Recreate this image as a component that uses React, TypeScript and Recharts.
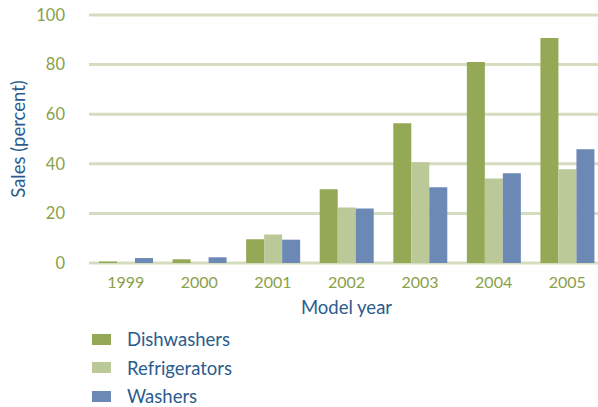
import { BarChart, Bar, XAxis, YAxis, CartesianGrid, Label } from "recharts";

const years = ["1999", "2000", "2001", "2002", "2003", "2004", "2005"];
const dishwashers = [0.6, 1.5, 9.6, 29.7, 56.4, 81.0, 90.7];
const refrigerators = [0, 0, 11.5, 22.4, 40.6, 34.1, 37.8];
const washers = [2.0, 2.3, 9.4, 22.0, 30.5, 36.2, 45.9];
const yTicks = [0, 20, 40, 60, 80, 100];

const series = [
  { key: "dishwashers", name: "Dishwashers", color: "#94a855" },
  { key: "refrigerators", name: "Refrigerators", color: "#bbc998" },
  { key: "washers", name: "Washers", color: "#6b89b4" },
];

const data = years.map((year, i) => ({
  year,
  dishwashers: dishwashers[i],
  refrigerators: refrigerators[i],
  washers: washers[i],
}));

const FONT = "Lato, 'Open Sans', sans-serif";
const TICK_GREEN = "#8aa04a";
const LABEL_BLUE = "#2b5c8e";

export default function App() {
  return (
    <div style={{ position: "absolute", left: 0, top: 0, width: 598, height: 407, overflow: "hidden", background: "#fff" }}>
      <BarChart
        width={604}
        height={330}
        data={data}
        margin={{ top: 15, right: 0, left: 0, bottom: 7 }}
        barGap={0}
      >
        <CartesianGrid vertical={false} stroke="#d5ddc0" strokeWidth={3} />
        <XAxis
          dataKey="year"
          axisLine={false}
          tickLine={false}
          tickSize={0}
          tickMargin={14}
          height={60}
          tick={{ fill: TICK_GREEN, fontSize: 16, fontFamily: FONT }}
        >
          <Label value="Model year" position="insideBottom" offset={9} fill={LABEL_BLUE} fontSize={18.5} fontFamily={FONT} />
        </XAxis>
        <YAxis
          domain={[0, 100]}
          ticks={yTicks}
          width={89}
          axisLine={false}
          tickLine={false}
          tickSize={0}
          tickMargin={24}
          tick={{ fill: TICK_GREEN, fontSize: 16.5, fontFamily: FONT }}
        >
          <Label value="Sales (percent)" angle={-90} position="insideLeft" offset={18} fill={LABEL_BLUE} fontSize={18.5} fontFamily={FONT} style={{ textAnchor: "middle" }} />
        </YAxis>
        {series.map((s) => (
          <Bar key={s.key} dataKey={s.key} name={s.name} fill={s.color} barSize={18} isAnimationActive={false} />
        ))}
      </BarChart>
      <div style={{ position: "absolute", left: 92, top: 325, fontFamily: FONT }}>
        {series.map((s) => (
          <div key={s.key} style={{ display: "flex", alignItems: "center", height: 28.5 }}>
            <span style={{ width: 19, height: 11, background: s.color, display: "inline-block" }} />
            <span style={{ marginLeft: 16, fontSize: 18.5, color: LABEL_BLUE }}>{s.name}</span>
          </div>
        ))}
      </div>
    </div>
  );
}
